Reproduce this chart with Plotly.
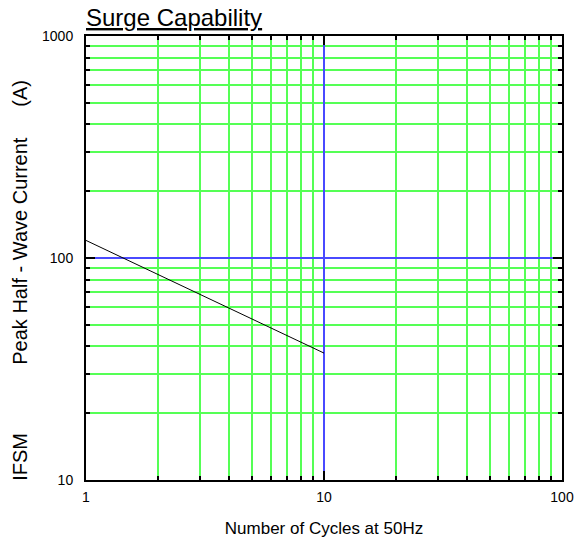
import plotly.graph_objects as go

# surge curve
cycles = [1, 10]
ifsm = [120, 37.3]

x_ticks = [1, 10, 100]
y_ticks = [10, 100, 1000]
x_minor = [2, 3, 4, 5, 6, 7, 8, 9, 20, 30, 40, 50, 60, 70, 80, 90]
y_minor = [20, 30, 40, 50, 60, 70, 80, 90, 200, 300, 400, 500, 600, 700, 800, 900]

GREEN = "#55ff55"
BLUE = "#4a4aff"
FONT = "Liberation Sans, Arial, sans-serif"

fig = go.Figure()
fig.add_trace(
    go.Scatter(
        x=cycles,
        y=ifsm,
        mode="lines",
        line=dict(color="black", width=1),
        showlegend=False,
        hoverinfo="skip",
    )
)


def axis_style(minor_vals):
    return dict(
        type="log",
        automargin=False,
        showline=True,
        linecolor="black",
        linewidth=2,
        mirror="ticks",
        ticks="inside",
        ticklen=9,
        tickwidth=2,
        tickcolor="black",
        showgrid=True,
        gridcolor=BLUE,
        gridwidth=2,
        zeroline=False,
        tickfont=dict(size=14, color="black", family=FONT),
        minor=dict(
            tickmode="array",
            tickvals=minor_vals,
            ticks="inside",
            ticklen=4,
            tickwidth=2,
            tickcolor="black",
            showgrid=True,
            gridcolor=GREEN,
            gridwidth=2,
        ),
        layer="above traces",
    )


fig.update_xaxes(
    **axis_style(x_minor),
    range=[0, 2],
    tickvals=x_ticks,
    ticktext=[str(v) for v in x_ticks],
    ticklabelstandoff=3,
    title=dict(text="Number of Cycles at 50Hz", font=dict(size=17, family=FONT, color="black"), standoff=18),
)
fig.update_yaxes(
    **axis_style(y_minor),
    range=[1, 3],
    tickvals=y_ticks,
    ticktext=[str(v) for v in y_ticks],
    ticklabelstandoff=8,
)

# y-axis caption, split in three pieces like the original sheet
for text, ypos in [("IFSM", 0.052), ("Peak Half - Wave Current", 0.516), ("(A)", 0.872)]:
    fig.add_annotation(
        text=text,
        xref="paper",
        yref="paper",
        x=-0.139,
        y=ypos,
        xanchor="center",
        yanchor="middle",
        textangle=-90,
        showarrow=False,
        font=dict(size=20, family=FONT, color="black"),
    )

fig.add_annotation(
    text="<u>Surge Capability</u>",
    xref="paper",
    yref="paper",
    x=0.0,
    y=1.0,
    xanchor="left",
    yanchor="bottom",
    xshift=-2,
    yshift=3,
    showarrow=False,
    font=dict(size=24, family=FONT, color="black"),
)

fig.update_layout(
    width=575,
    height=545,
    margin=dict(l=86, r=13, t=36, b=65),
    plot_bgcolor="white",
    paper_bgcolor="white",
    font=dict(family=FONT, color="black"),
)

# drop the default 8px body margin so the figure fills the window exactly
fig.write_html(
    "out.html",
    config={"displayModeBar": False},
    post_script="document.body.style.margin='0';document.body.style.overflow='hidden';",
)
